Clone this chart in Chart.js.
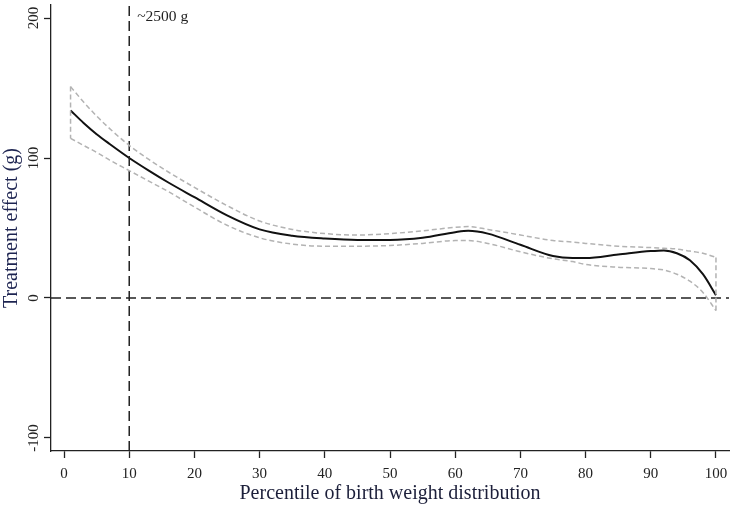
<!DOCTYPE html>
<html>
<head>
<meta charset="utf-8">
<script src="https://cdn.jsdelivr.net/npm/chart.js@4/dist/chart.umd.min.js"></script>
<style>
  html, body { margin: 0; padding: 0; background: #fff; }
  #wrap { width: 750px; height: 510px; }
</style>
</head>
<body>
<div id="wrap"><canvas id="chart" width="750" height="510"></canvas></div>
<script>
// percentile grid and the estimated effect with its 95% band
const pctl   = [1, 3, 5, 7, 10, 13, 16, 20, 25, 30, 35, 40, 45, 50, 55, 60, 62, 65, 70, 75, 78, 80, 85, 90, 92, 94, 96, 98, 100];
const effect = [134, 125, 117, 110, 100, 91, 82.5, 72, 59, 49, 44.5, 42.5, 41.5, 41.5, 43, 47, 48, 46, 38, 30, 28.5, 28.5, 31, 33.5, 34, 32, 27, 17, 2];
const upper  = [151, 140, 130, 121, 109, 99, 90, 79, 66, 55, 49, 46, 45, 46, 48, 50.5, 51, 49, 45, 41, 40, 39, 37, 36, 35.5, 35, 33.5, 32, 29];
const lower  = [114, 109, 104, 98.5, 91, 83.5, 76, 65, 52, 43, 38.5, 37, 37, 37.5, 39, 41, 41, 39, 33, 28, 26, 24, 22, 21, 20, 17, 12, 4, -9];

const xTicks = [0, 10, 20, 30, 40, 50, 60, 70, 80, 90, 100];
const yTicks = [-100, 0, 100, 200];
const xMin = -2, xMax = 102;
const yMin = -109.3, yMax = 209.3;
const refX = 10;        // ~2500 g percentile
const refLabel = '~2500 g';

const serif = '"Liberation Serif", "Times New Roman", serif';

const toPts = (ys) => pctl.map((x, i) => ({ x: x, y: ys[i] }));
const last = pctl.length - 1;

const ciStyle = {
  borderColor: '#b3b3b3',
  borderWidth: 1.5,
  borderDash: [5, 3],
  pointRadius: 0,
  fill: false,
  cubicInterpolationMode: 'monotone'
};
const refStyle = {
  borderColor: '#222',
  borderWidth: 1.5,
  borderDash: [10, 5],
  pointRadius: 0,
  fill: false
};

// rotated y tick labels + the annotation text
const extras = {
  id: 'extras',
  afterDraw(chart) {
    const ctx = chart.ctx;
    const ys = chart.scales.y;
    const xs = chart.scales.x;
    ctx.save();
    ctx.fillStyle = '#222';
    ctx.font = '15px ' + serif;
    ctx.textAlign = 'center';
    ctx.textBaseline = 'middle';
    ys.ticks.forEach(t => {
      ctx.save();
      ctx.translate(34, ys.getPixelForValue(t.value));
      ctx.rotate(-Math.PI / 2);
      ctx.fillText(String(t.value), 0, 0);
      ctx.restore();
    });
    ctx.textAlign = 'left';
    ctx.font = '15.5px ' + serif;
    ctx.fillText(refLabel, xs.getPixelForValue(refX) + 8, 17);
    ctx.restore();
  }
};

new Chart(document.getElementById('chart').getContext('2d'), {
  type: 'line',
  data: {
    datasets: [
      Object.assign({ data: toPts(upper) }, ciStyle),
      Object.assign({ data: toPts(lower) }, ciStyle),
      Object.assign({ data: [{ x: pctl[0], y: upper[0] }, { x: pctl[0], y: lower[0] }] }, ciStyle),
      Object.assign({ data: [{ x: pctl[last], y: upper[last] }, { x: pctl[last], y: lower[last] }] }, ciStyle),
      Object.assign({ data: [{ x: xMin, y: 0 }, { x: xMax, y: 0 }] }, refStyle),
      Object.assign({ data: [{ x: refX, y: yMin }, { x: refX, y: yMax }] }, refStyle),
      {
        data: toPts(effect),
        borderColor: '#111',
        borderWidth: 2,
        pointRadius: 0,
        fill: false,
        cubicInterpolationMode: 'monotone'
      }
    ]
  },
  options: {
    responsive: false,
    animation: false,
    layout: { padding: { top: 5, right: 21, left: 0, bottom: 0 } },
    plugins: { legend: { display: false }, tooltip: { enabled: false } },
    scales: {
      x: {
        type: 'linear',
        min: xMin,
        max: xMax,
        afterBuildTicks: (scale) => { scale.ticks = xTicks.map(v => ({ value: v })); },
        afterFit: (scale) => { scale.height = 59; },
        grid: { drawOnChartArea: false, tickLength: 7, tickColor: '#222', tickWidth: 1.3 },
        border: { color: '#222', width: 1.3 },
        ticks: { color: '#222', font: { family: serif, size: 15 }, padding: 7, maxRotation: 0, autoSkip: false },
        title: {
          display: true,
          text: 'Percentile of birth weight distribution',
          color: '#1c1f3a',
          font: { family: serif, size: 20 },
          padding: { top: 0, bottom: 4 }
        }
      },
      y: {
        type: 'linear',
        min: yMin,
        max: yMax,
        afterBuildTicks: (scale) => { scale.ticks = yTicks.map(v => ({ value: v })); },
        afterFit: (scale) => { scale.width = 51; },
        grid: { drawOnChartArea: false, tickLength: 7, tickColor: '#222', tickWidth: 1.3 },
        border: { color: '#222', width: 1.3 },
        ticks: { display: false },
        title: {
          display: true,
          text: 'Treatment effect (g)',
          color: '#1c2350',
          font: { family: serif, size: 20 },
          padding: { top: 0, bottom: 0 }
        }
      }
    }
  },
  plugins: [extras]
});
</script>
</body>
</html>
